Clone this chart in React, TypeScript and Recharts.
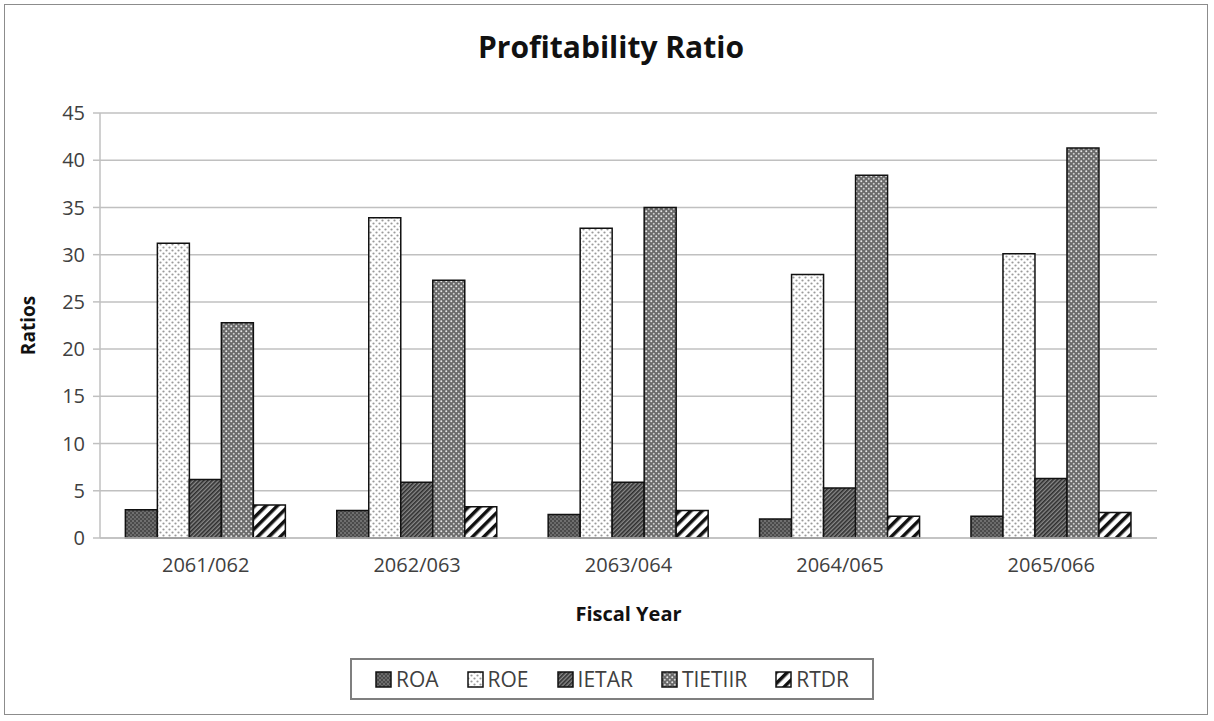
import { Bar, BarChart, CartesianGrid, Label, XAxis, YAxis } from "recharts";

const years = ["2061/062", "2062/063", "2063/064", "2064/065", "2065/066"];
const roa = [3.0, 2.9, 2.5, 2.0, 2.3];
const roe = [31.2, 33.9, 32.8, 27.9, 30.1];
const ietar = [6.2, 5.9, 5.9, 5.3, 6.3];
const tietiir = [22.8, 27.3, 35.0, 38.4, 41.3];
const rtdr = [3.5, 3.3, 2.9, 2.3, 2.7];
const yTicks = [0, 5, 10, 15, 20, 25, 30, 35, 40, 45];

const series = [
  { key: "ROA", fill: "url(#pat-roa)" },
  { key: "ROE", fill: "url(#pat-roe)" },
  { key: "IETAR", fill: "url(#pat-ietar)" },
  { key: "TIETIIR", fill: "url(#pat-tietiir)" },
  { key: "RTDR", fill: "url(#pat-rtdr)" },
];

const data = years.map((year, i) => ({
  year,
  ROA: roa[i],
  ROE: roe[i],
  IETAR: ietar[i],
  TIETIIR: tietiir[i],
  RTDR: rtdr[i],
}));

const font = "Open Sans, 'Noto Sans', sans-serif";

// hatch fills shared by the bars and the legend swatches
function Patterns() {
  return (
    <svg width={0} height={0} style={{ position: "absolute" }}>
      <defs>
        <pattern id="pat-roa" width={4} height={4} patternUnits="userSpaceOnUse">
          <rect width={4} height={4} fill="#4a4a4a" />
          <circle cx={1} cy={1} r={0.8} fill="#a0a0a0" />
          <circle cx={3} cy={3} r={0.8} fill="#909090" />
        </pattern>
        <pattern id="pat-roe" width={6} height={6} patternUnits="userSpaceOnUse">
          <rect width={6} height={6} fill="#ffffff" />
          <circle cx={1.5} cy={1.5} r={1.1} fill="#9a9a9a" />
          <circle cx={4.5} cy={4.5} r={1.1} fill="#9a9a9a" />
        </pattern>
        <pattern
          id="pat-ietar"
          width={3}
          height={3}
          patternUnits="userSpaceOnUse"
          patternTransform="rotate(45)"
        >
          <rect width={3} height={3} fill="#8a8a8a" />
          <rect width={1.6} height={3} fill="#2e2e2e" />
        </pattern>
        <pattern id="pat-tietiir" width={5} height={5} patternUnits="userSpaceOnUse">
          <rect width={5} height={5} fill="#6a6a6a" />
          <circle cx={1.25} cy={1.25} r={1} fill="#e6e6e6" />
          <circle cx={3.75} cy={3.75} r={1} fill="#d0d0d0" />
        </pattern>
        <pattern
          id="pat-rtdr"
          width={8}
          height={8}
          patternUnits="userSpaceOnUse"
          patternTransform="rotate(45)"
        >
          <rect width={8} height={8} fill="#ffffff" />
          <rect width={3.5} height={8} fill="#111111" />
        </pattern>
      </defs>
    </svg>
  );
}

function LegendBox() {
  return (
    <div
      style={{
        position: "absolute",
        left: 350,
        top: 658,
        width: 524,
        height: 42,
        boxSizing: "border-box",
        display: "flex",
        alignItems: "center",
        justifyContent: "center",
        gap: 28,
        border: "2px solid #7f7f7f",
        fontFamily: font,
        fontSize: 21,
        color: "#404040",
        background: "#fff",
      }}
    >
      {series.map((s) => (
        <div key={s.key} style={{ display: "flex", alignItems: "center", gap: 4 }}>
          <svg width={17} height={17}>
            <rect x={1} y={1} width={15} height={15} fill={s.fill} stroke="#111" strokeWidth={1.5} />
          </svg>
          <span>{s.key}</span>
        </div>
      ))}
    </div>
  );
}

export default function App() {
  return (
    <div
      style={{
        position: "absolute",
        left: 0,
        top: 0,
        width: 1214,
        height: 721,
        background: "#fff",
      }}
    >
      <Patterns />
      <div
        style={{
          position: "absolute",
          left: 4,
          top: 4,
          width: 1204,
          height: 711,
          border: "1.5px solid #8c8c8c",
          boxSizing: "border-box",
        }}
      />
      <div
        style={{
          position: "absolute",
          left: 0,
          top: 26,
          width: 1222,
          textAlign: "center",
          fontFamily: font,
          fontWeight: 700,
          fontSize: 30,
          color: "#111",
        }}
      >
        Profitability Ratio
      </div>
      <BarChart
        width={1214}
        height={721}
        data={data}
        margin={{ top: 113, right: 57, bottom: 103, left: 38 }}
        barCategoryGap="12%"
        barGap={0}
        style={{ position: "absolute", left: 0, top: 0 }}
      >
        <CartesianGrid stroke="#c0c0c0" strokeWidth={1.5} vertical={false} />
        <XAxis
          dataKey="year"
          height={80}
          tick={{ fontSize: 20, fill: "#404040", fontFamily: font }}
          tickLine={false}
          axisLine={{ stroke: "#c0c0c0", strokeWidth: 1.5 }}
          tickMargin={14}
        >
          <Label
            value="Fiscal Year"
            position="insideBottom"
            offset={-3}
            style={{ fontSize: 20, fontWeight: 700, fill: "#111", fontFamily: font }}
          />
        </XAxis>
        <YAxis
          width={62}
          domain={[0, 45]}
          ticks={yTicks}
          interval={0}
          tick={{ fontSize: 20, fill: "#404040", fontFamily: font }}
          tickLine={{ stroke: "#c0c0c0", strokeWidth: 1.5 }}
          tickSize={7}
          tickMargin={8}
          axisLine={{ stroke: "#c0c0c0", strokeWidth: 1.5 }}
        >
          <Label
            value="Ratios"
            angle={-90}
            position="insideLeft"
            offset={-10}
            style={{ fontSize: 19, fontWeight: 700, fill: "#111", fontFamily: font, textAnchor: "middle" }}
          />
        </YAxis>
        {series.map((s) => (
          <Bar
            key={s.key}
            dataKey={s.key}
            fill={s.fill}
            stroke="#111"
            strokeWidth={1.5}
            isAnimationActive={false}
          />
        ))}
      </BarChart>
      <LegendBox />
    </div>
  );
}
